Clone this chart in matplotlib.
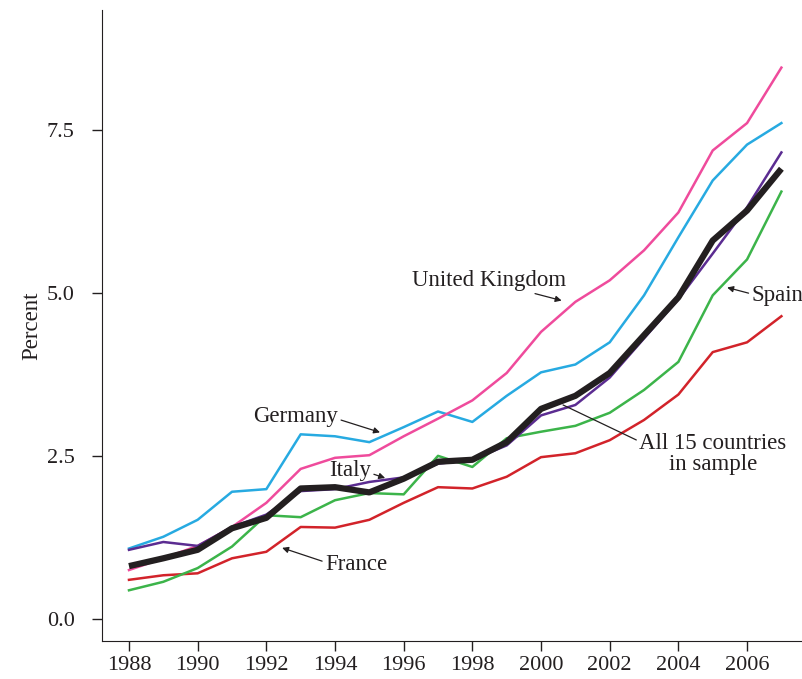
import matplotlib.pyplot as plt
import numpy as np

years = np.arange(1988, 2008)

uk = [0.75, 0.93, 1.12, 1.41, 1.78, 2.30, 2.47, 2.51, 2.80, 3.07, 3.35, 3.77,
      4.40, 4.86, 5.19, 5.65, 6.23, 7.18, 7.60, 8.45]
germany = [1.08, 1.26, 1.52, 1.95, 1.99, 2.83, 2.80, 2.71, 2.94, 3.18, 3.02, 3.42,
           3.78, 3.90, 4.24, 4.96, 5.85, 6.72, 7.27, 7.60]
italy = [1.06, 1.18, 1.12, 1.41, 1.60, 1.96, 1.99, 2.10, 2.17, 2.38, 2.44, 2.66,
         3.12, 3.28, 3.70, 4.30, 4.90, 5.60, 6.31, 7.15]
spain = [0.44, 0.57, 0.78, 1.11, 1.59, 1.56, 1.82, 1.93, 1.91, 2.50, 2.33, 2.77,
         2.87, 2.96, 3.16, 3.51, 3.94, 4.96, 5.51, 6.55]
france = [0.60, 0.67, 0.70, 0.93, 1.03, 1.41, 1.40, 1.52, 1.78, 2.02, 2.00, 2.18,
          2.48, 2.54, 2.74, 3.05, 3.44, 4.09, 4.24, 4.64]
all15 = [0.81, 0.93, 1.06, 1.39, 1.55, 2.00, 2.02, 1.94, 2.15, 2.41, 2.44, 2.71,
         3.22, 3.42, 3.77, 4.35, 4.93, 5.80, 6.26, 6.90]

plt.rcParams['font.family'] = ['Liberation Serif', 'DejaVu Serif']
ink = "#231f20"

fig = plt.figure(figsize=(8.02, 6.79), dpi=100)
ax = fig.add_axes([0.127, 0.056, 0.873, 0.929])

ax.plot(years, france, color="#d2232a", lw=1.8)
ax.plot(years, spain, color="#3cb44a", lw=1.8)
ax.plot(years, germany, color="#27aae1", lw=1.8)
ax.plot(years, uk, color="#ef4b9c", lw=1.8)
ax.plot(years, italy, color="#5b2c91", lw=1.8)
ax.plot(years, all15, color=ink, lw=4.5, solid_capstyle="butt")

ax.set_xlim(1987.21, 2007.6)
ax.set_ylim(-0.337, 9.33)
ax.set_xticks(np.arange(1988, 2007, 2))
ax.set_yticks([0.0, 2.5, 5.0, 7.5])
ax.set_yticklabels(["0.0", "2.5", "5.0", "7.5"])
ax.tick_params(labelsize=16, length=7.5, width=1, colors=ink)
ax.tick_params(axis="x", pad=3)
ax.tick_params(axis="y", pad=12)
ax.spines["top"].set_visible(False)
ax.spines["right"].set_visible(False)
ax.spines["left"].set_color(ink)
ax.spines["bottom"].set_color(ink)
ax.set_ylabel("Percent", fontsize=16.5, labelpad=3, color=ink)


def arrow(rx, ry, head=True):
    return dict(arrowstyle="-|>" if head else "-", color=ink, lw=0.9,
                mutation_scale=9, shrinkA=0, shrinkB=0, relpos=(rx, ry))


txt = dict(fontsize=16.5, color=ink, ha="center", va="center")

ax.annotate("United Kingdom", xy=(2000.6, 4.88), xytext=(1998.5, 5.19),
            arrowprops=arrow(0.7, 0.05), **txt)
ax.annotate("Germany", xy=(1995.31, 2.86), xytext=(1992.86, 3.11),
            arrowprops=arrow(1.0, 0.35), **txt)
ax.annotate("Italy", xy=(1995.46, 2.16), xytext=(1994.44, 2.28),
            arrowprops=arrow(1.0, 0.35), **txt)
ax.annotate("France", xy=(1992.46, 1.09), xytext=(1994.61, 0.84),
            arrowprops=arrow(0.0, 0.6), **txt)
ax.annotate("Spain", xy=(2005.42, 5.08), xytext=(2006.88, 4.95),
            arrowprops=arrow(0.0, 0.6), **txt)
ax.annotate("All 15 countries\nin sample", xy=(2000.64, 3.28), xytext=(2005.0, 2.53),
            linespacing=1.0, multialignment="center",
            arrowprops=arrow(0.0, 0.8, head=False), **txt)

fig.savefig("out.png", dpi=100)
